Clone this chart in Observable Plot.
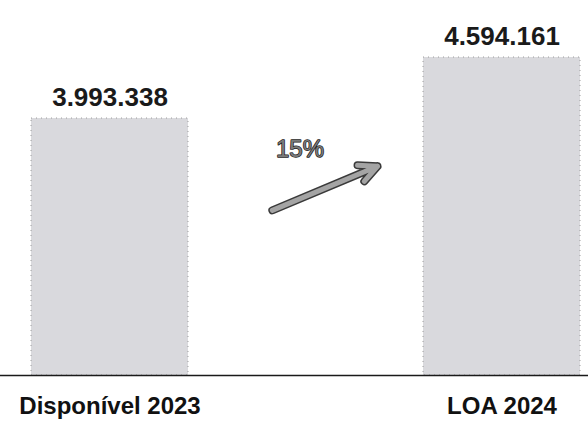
<!DOCTYPE html>
<html>
<head>
<meta charset="utf-8">
<script src="https://cdn.jsdelivr.net/npm/d3@7"></script>
<script src="https://cdn.jsdelivr.net/npm/@observablehq/plot@0.6"></script>
<style>
  html, body { margin: 0; padding: 0; background: #ffffff; }
  #chart { width: 588px; height: 439px; }
</style>
</head>
<body>
<div id="chart"></div>
<script>
// Data
const categories = ["Disponível 2023", "LOA 2024"];
const values = [3993338, 4594161];
// growth arrow annotation (in data units)
const arrowFrom = ["Disponível 2023", 2418400];
const arrowTo = ["LOA 2024", 4036660];

const yMin = 1462000;
const yMax = 5155600;

const data = categories.map((c, i) => ({category: c, value: values[i]}));
const fmt = v => d3.format(",")(v).replace(/,/g, ".");
const growth = [{label: d3.format(".0%")(values[1] / values[0] - 1)}];
const arrowData = [{x1: arrowFrom[0], y1: arrowFrom[1], x2: arrowTo[0], y2: arrowTo[1]}];

const chart = Plot.plot({
  width: 588,
  height: 439,
  marginTop: 0,
  marginBottom: 64,
  marginLeft: 30,
  marginRight: 8,
  style: {fontFamily: "'Liberation Sans', Arial, sans-serif", background: "#ffffff"},
  x: {domain: categories, paddingInner: 0.6, paddingOuter: 0, axis: null},
  y: {domain: [yMin, yMax], axis: null},
  marks: [
    Plot.barY(data, {
      x: "category", y1: yMin, y2: "value",
      fill: "#d9d9dd", stroke: "#8a8a8a", strokeWidth: 1,
      strokeDasharray: "1 4", strokeOpacity: 0.8
    }),
    Plot.ruleY([yMin], {stroke: "#1a1a1a", strokeWidth: 1.6, insetLeft: -30, insetRight: -8}),
    Plot.text(data, {
      x: "category", y: "value", text: d => fmt(d.value),
      dy: -13, lineAnchor: "bottom", fontSize: 26, fontWeight: "bold", fill: "#1a1a1a"
    }),
    Plot.text(data, {
      x: "category", y: yMin, text: "category",
      dy: 38, lineAnchor: "bottom", fontSize: 24, fontWeight: "bold", fill: "#111"
    }),
    Plot.arrow(arrowData, {
      x1: "x1", y1: "y1", x2: "x2", y2: "y2",
      insetStart: 176, insetEnd: 135,
      stroke: "#3a3a3a", strokeWidth: 8, headLength: 3.75, headAngle: 52,
      strokeLinecap: "round", strokeLinejoin: "round"
    }),
    Plot.arrow(arrowData, {
      x1: "x1", y1: "y1", x2: "x2", y2: "y2",
      insetStart: 176, insetEnd: 135,
      stroke: "#a4a4a4", strokeWidth: 5, headLength: 6, headAngle: 52,
      strokeLinecap: "round", strokeLinejoin: "round"
    }),
    Plot.text(growth, {
      x: () => categories[0], y: () => values[0], text: "label",
      dx: 190, dy: 38, lineAnchor: "bottom", fontSize: 24,
      fill: "#7a7a7a", stroke: "#222222", strokeWidth: 1.4
    })
  ]
});
document.getElementById("chart").appendChild(chart);
</script>
</body>
</html>
